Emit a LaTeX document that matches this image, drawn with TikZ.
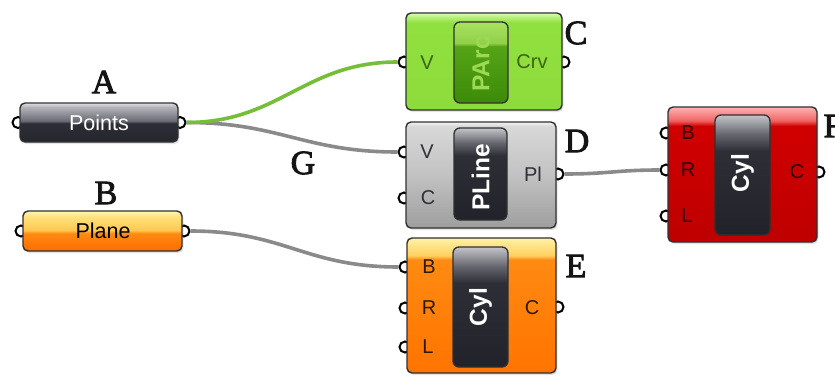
\documentclass[tikz,border=0pt]{standalone}
\usepackage{fontspec}
\setmainfont{Liberation Sans}
\newfontfamily\lettersf[FakeBold=2.5]{Liberation Serif}
\usetikzlibrary{shadows}
\definecolor{outl}{HTML}{303030}
\definecolor{wiregray}{HTML}{8A8A8A}
\definecolor{wiregreen}{HTML}{76BE38}
\definecolor{lettercol}{HTML}{141414}
% Points
\definecolor{ptsB}{HTML}{25252D}
\definecolor{ptsM1}{HTML}{2E2E38}
\definecolor{ptsM2}{HTML}{6A6A74}
\definecolor{ptsT1}{HTML}{B4B4BA}
\definecolor{ptsT}{HTML}{E2E2E4}
% Plane
\definecolor{plB}{HTML}{FF6C00}
\definecolor{plM1}{HTML}{FF8A14}
\definecolor{plM2}{HTML}{FFC850}
\definecolor{plT1}{HTML}{FFE27E}
\definecolor{plT}{HTML}{FFF4B4}
% green comp
\definecolor{grB}{HTML}{8EDC3C}
\definecolor{grM}{HTML}{90E040}
\definecolor{grT1}{HTML}{B8F07E}
\definecolor{grT}{HTML}{DAFFB4}
\definecolor{gbB}{HTML}{3C8A08}
\definecolor{gbM}{HTML}{56A416}
\definecolor{gbT1}{HTML}{92D04A}
\definecolor{gbT}{HTML}{A8E260}
\definecolor{gbText}{HTML}{9CDA54}
% gray comp
\definecolor{gyB}{HTML}{9E9E9E}
\definecolor{gyM}{HTML}{C2C2C2}
\definecolor{gyT1}{HTML}{D8D8D8}
\definecolor{gyT}{HTML}{F2F2F2}
% dark button
\definecolor{dbB}{HTML}{22222A}
\definecolor{dbM}{HTML}{2E2E36}
\definecolor{dbT1}{HTML}{66666E}
\definecolor{dbT}{HTML}{C4C4CA}
% orange comp
\definecolor{orB}{HTML}{FF7400}
\definecolor{orM}{HTML}{FF8A12}
\definecolor{orT1}{HTML}{FFD060}
\definecolor{orT}{HTML}{FFF2A6}
% red comp
\definecolor{rdB}{HTML}{BE0000}
\definecolor{rdM}{HTML}{D00000}
\definecolor{rdT1}{HTML}{F06464}
\definecolor{rdT}{HTML}{FFB4B4}
\pgfdeclareverticalshading{ptsshade}{100bp}{color(0bp)=(ptsB); color(25bp)=(ptsB); color(49bp)=(ptsM1); color(52bp)=(ptsM2); color(70bp)=(ptsT1); color(75bp)=(ptsT); color(100bp)=(ptsT)}
\pgfdeclareverticalshading{planeshade}{100bp}{color(0bp)=(plB); color(25bp)=(plB); color(47bp)=(plM1); color(51bp)=(plM2); color(68bp)=(plT1); color(75bp)=(plT); color(100bp)=(plT)}
\pgfdeclareverticalshading{greenshade}{100bp}{color(0bp)=(grB); color(25bp)=(grB); color(70bp)=(grM); color(73bp)=(grT1); color(75bp)=(grT); color(100bp)=(grT)}
\pgfdeclareverticalshading{greenbtn}{100bp}{color(0bp)=(gbB); color(25bp)=(gbB); color(60bp)=(gbM); color(62bp)=(gbT1); color(75bp)=(gbT); color(100bp)=(gbT)}
\pgfdeclareverticalshading{grayshade}{100bp}{color(0bp)=(gyB); color(25bp)=(gyB); color(50bp)=(gyM); color(73bp)=(gyT1); color(75bp)=(gyT); color(100bp)=(gyT)}
\pgfdeclareverticalshading{darkbtn}{100bp}{color(0bp)=(dbB); color(25bp)=(dbB); color(60bp)=(dbM); color(67bp)=(dbT1); color(75bp)=(dbT); color(100bp)=(dbT)}
\pgfdeclareverticalshading{orangeshade}{100bp}{color(0bp)=(orB); color(25bp)=(orB); color(67bp)=(orM); color(68.5bp)=(orT1); color(75bp)=(orT); color(100bp)=(orT)}
\pgfdeclareverticalshading{redshade}{100bp}{color(0bp)=(rdB); color(25bp)=(rdB); color(68bp)=(rdM); color(70bp)=(rdT1); color(75bp)=(rdT); color(100bp)=(rdT)}
\tikzset{
  compbox/.style={draw=outl, line width=1.4pt, rounded corners=5pt, inner sep=0pt,
    drop shadow={opacity=0.22, shadow xshift=1.5pt, shadow yshift=-2pt}},
  btnbox/.style={draw=outl, line width=1.3pt, rounded corners=6pt, inner sep=0pt},
  port/.style={circle, draw=black, fill=white, line width=2pt, minimum size=11pt, inner sep=0pt},
  plabel/.style={font=\fontsize{20}{22}\selectfont, inner sep=0pt},
  parlabel/.style={font=\fontsize{21.5}{24}\selectfont, inner sep=0pt},
  letter/.style={font=\lettersf\fontsize{34}{36}\selectfont, text=lettercol, inner sep=0pt},
  wire/.style={line width=3.6pt, draw=wiregray},
  gwire/.style={line width=3.6pt, draw=wiregreen},
  btntext/.style={rotate=90, font=\bfseries\fontsize{24.5}{26}\selectfont, text=white, inner sep=0pt},
}
\begin{document}
\begin{tikzpicture}[x=1pt, y=-1pt]
\useasboundingbox (0,0) rectangle (835,375);
\clip (0,0) rectangle (835,375);
\fill[white] (0,0) rectangle (835,375);

% ports
\node[port] (Ain)  at (18,122.5) {};
\node[port] (Aout) at (180,122.5) {};
\node[port] (Bin)  at (21,231) {};
\node[port] (Bout) at (184,231) {};
\node[port] (Cin)  at (404,62) {};
\node[port] (Cout) at (564,62) {};
\node[port] (DinV) at (404,152) {};
\node[port] (DinC) at (404,198) {};
\node[port] (Dout) at (558,174) {};
\node[port] (EinB) at (405,267) {};
\node[port] (EinR) at (405,308) {};
\node[port] (EinL) at (405,347) {};
\node[port] (Eout) at (558,307) {};
\node[port] (FinB) at (666,133) {};
\node[port] (FinR) at (666,170) {};
\node[port] (FinL) at (666,216) {};
\node[port] (Fout) at (819,172) {};

% wires
\draw[wire]  (Aout) .. controls +(100,0) and +(-100,0) .. (DinV);
\draw[gwire] (Aout) .. controls +(100,0) and +(-100,0) .. (Cin);
\draw[wire]  (Bout) .. controls +(100,0) and +(-100,0) .. (EinB);
\draw[wire]  (Dout) .. controls +(50,0) and +(-50,0) .. (FinR);

% parameter A (Points)
\node[compbox, shading=ptsshade, minimum width=158pt, minimum height=39pt] (Apar) at (99,122.5) {};
\node[parlabel, text=white] (Atext) at (99,122.5) {Points};
% parameter B (Plane)
\node[compbox, shading=planeshade, minimum width=159pt, minimum height=40pt] (Bpar) at (102.5,231) {};
\node[parlabel, text=black] (Btext) at (103,231) {Plane};

% component C (PArc)
\node[compbox, shading=greenshade, minimum width=156pt, minimum height=97pt] (C) at (484,61.5) {};
\node[btnbox, shading=greenbtn, minimum width=54pt, minimum height=81pt] (Cbtn) at (481,62.5) {};
\node[btntext, text=gbText] (Ctext) at (481,64) {PArc};
\node[plabel, text={rgb,255:red,58;green,100;blue,16}] (CV) at (427,63) {V};
\node[plabel, text={rgb,255:red,58;green,100;blue,16}] (CCrv) at (532,62) {Crv};

% component D (PLine)
\node[compbox, shading=grayshade, minimum width=150pt, minimum height=106pt] (D) at (481,175) {};
\node[btnbox, shading=darkbtn, minimum width=53pt, minimum height=92pt] (Dbtn) at (480.5,174) {};
\node[btntext] (Dtext) at (480.5,177) {PLine};
\node[plabel, text={rgb,255:red,48;green,48;blue,56}] (DV) at (427,152) {V};
\node[plabel, text={rgb,255:red,48;green,48;blue,56}] (DC) at (428,198) {C};
\node[plabel, text={rgb,255:red,48;green,48;blue,56}] (DPl) at (533,174) {Pl};

% component E (Cyl, orange)
\node[compbox, shading=orangeshade, minimum width=149pt, minimum height=135pt] (E) at (481.5,305.5) {};
\node[btnbox, shading=darkbtn, minimum width=55pt, minimum height=120pt] (Ebtn) at (480.5,307) {};
\node[btntext] (Etext) at (480.5,307) {Cyl};
\node[plabel, text={rgb,255:red,48;green,24;blue,0}] (EB) at (429,267) {B};
\node[plabel, text={rgb,255:red,48;green,24;blue,0}] (ER) at (429,308) {R};
\node[plabel, text={rgb,255:red,48;green,24;blue,0}] (EL) at (428,347) {L};
\node[plabel, text={rgb,255:red,48;green,24;blue,0}] (EC) at (532,308) {C};

% component F (Cyl, red)
\node[compbox, shading=redshade, minimum width=149pt, minimum height=135pt] (F) at (742.5,174.5) {};
\node[btnbox, shading=darkbtn, minimum width=55pt, minimum height=120pt] (Fbtn) at (742.5,175) {};
\node[btntext] (Ftext) at (742.5,173) {Cyl};
\node[plabel, text={rgb,255:red,40;green,0;blue,0}] (FB) at (688,133) {B};
\node[plabel, text={rgb,255:red,40;green,0;blue,0}] (FR) at (688,170) {R};
\node[plabel, text={rgb,255:red,40;green,0;blue,0}] (FL) at (687,216) {L};
\node[plabel, text={rgb,255:red,40;green,0;blue,0}] (FC) at (797,172) {C};

% letters
\node[letter] (lA) at (104,82) {A};
\node[letter] (lB) at (106,193) {B};
\node[letter] (lG) at (303,163) {G};
\node[letter] (lC) at (576,33) {C};
\node[letter] (lD) at (577,141) {D};
\node[letter] (lE) at (576,266) {E};
\node[letter] (lF) at (833,126) {F};
\end{tikzpicture}
\end{document}
